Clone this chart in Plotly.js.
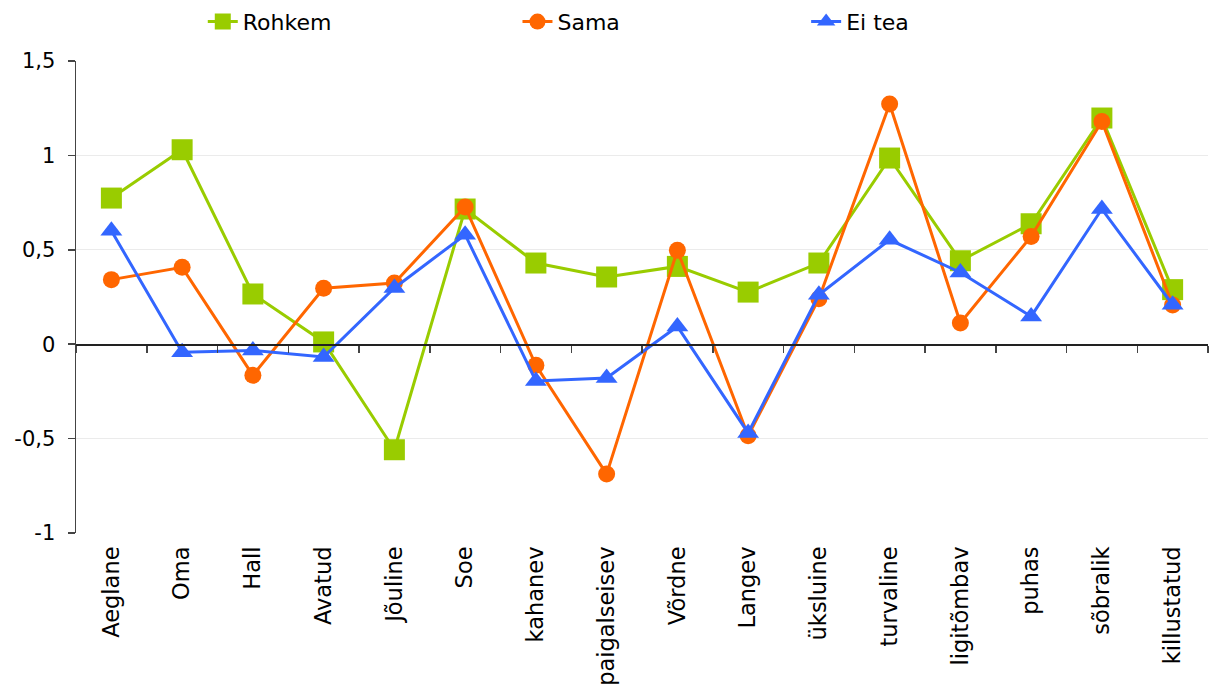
<!DOCTYPE html>
<html>
<head>
<meta charset="utf-8">
<script src="https://cdn.plot.ly/plotly-3.0.1.min.js"></script>
<style>html,body{margin:0;padding:0;background:#fff;}#chart{width:1209px;height:690px;}</style>
</head>
<body>
<div id="chart"></div>
<script>
const categories = ["Aeglane","Oma","Hall","Avatud","Jõuline","Soe","kahanev","paigalseisev","Võrdne","Langev","üksluine","turvaline","ligitõmbav","puhas","sõbralik","killustatud"];
const rohkem = [0.774, 1.03, 0.266, 0.012, -0.559, 0.716, 0.43, 0.356, 0.412, 0.276, 0.43, 0.986, 0.442, 0.638, 1.198, 0.289];
const sama   = [0.342, 0.407, -0.165, 0.296, 0.324, 0.727, -0.112, -0.688, 0.497, -0.485, 0.241, 1.272, 0.112, 0.571, 1.18, 0.208];
const eiTea  = [0.601, -0.043, -0.033, -0.068, 0.298, 0.58, -0.195, -0.179, 0.094, -0.47, 0.262, 0.553, 0.38, 0.147, 0.716, 0.209];
const seriesNames = ["Rohkem", "Sama", "Ei tea"];
const yTickVals = [-1, -0.5, 0, 0.5, 1, 1.5];
const yTickText = ["-1", "-0,5", "0", "0,5", "1", "1,5"];

const FONT = "DejaVu Sans, Verdana, sans-serif";
const traces = [
  {x: categories, y: rohkem, name: seriesNames[0], type: "scatter", mode: "lines+markers",
   line: {color: "#99CC00", width: 3}, marker: {symbol: "square", size: 21, color: "#99CC00"}, legend: "legend"},
  {x: categories, y: sama, name: seriesNames[1], type: "scatter", mode: "lines+markers",
   line: {color: "#FF6600", width: 3}, marker: {symbol: "circle", size: 17, color: "#FF6600"}, legend: "legend2"},
  {x: categories, y: eiTea, name: seriesNames[2], type: "scatter", mode: "lines+markers",
   line: {color: "#3366FF", width: 3}, marker: {symbol: "triangle-up", size: 19, color: "#3366FF"}, legend: "legend3"},
  {x: categories, y: categories.map(() => null), xaxis: "x2", yaxis: "y", type: "scatter", mode: "lines",
   showlegend: false, hoverinfo: "skip"}
];

const legendBase = {orientation: "h", xanchor: "left", yanchor: "middle", y: 1.083,
  font: {family: FONT, size: 22, color: "#000"}, bgcolor: "rgba(0,0,0,0)", borderwidth: 0};

const layout = {
  width: 1209, height: 690,
  margin: {l: 76, r: 1, t: 61, b: 157},
  paper_bgcolor: "#fff", plot_bgcolor: "#fff",
  font: {family: FONT, size: 21, color: "#000"},
  separators: ",.",
  showlegend: true,
  legend: Object.assign({}, legendBase, {x: 0.112}),
  legend2: Object.assign({}, legendBase, {x: 0.390}),
  legend3: Object.assign({}, legendBase, {x: 0.645}),
  xaxis: {type: "category", range: [-0.5, 15.5], tickangle: -90, ticks: "", showgrid: false,
    showline: false, zeroline: false, ticklabelstandoff: 8,
    tickfont: {family: FONT, size: 22.5, color: "#000"}},
  xaxis2: {type: "category", overlaying: "x", anchor: "free", position: 0.4, range: [-0.5, 15.5],
    showticklabels: false, ticks: "outside", ticklen: 7, tickwidth: 1.5, tickcolor: "#444",
    tickson: "boundaries", showline: true, linecolor: "#222", linewidth: 1.5, showgrid: false, zeroline: false},
  yaxis: {range: [-1, 1.5], tickvals: yTickVals, ticktext: yTickText, ticks: "outside", ticklen: 7,
    tickcolor: "#444", tickwidth: 1.5, showline: true, linecolor: "#444", linewidth: 1.5,
    showgrid: true, gridcolor: "#ebebeb", gridwidth: 1, zeroline: false, ticklabelstandoff: 8,
    tickfont: {family: FONT, size: 21, color: "#000"}},
  hovermode: false
};

Plotly.newPlot("chart", traces, layout, {displayModeBar: false, staticPlot: true});
</script>
</body>
</html>
